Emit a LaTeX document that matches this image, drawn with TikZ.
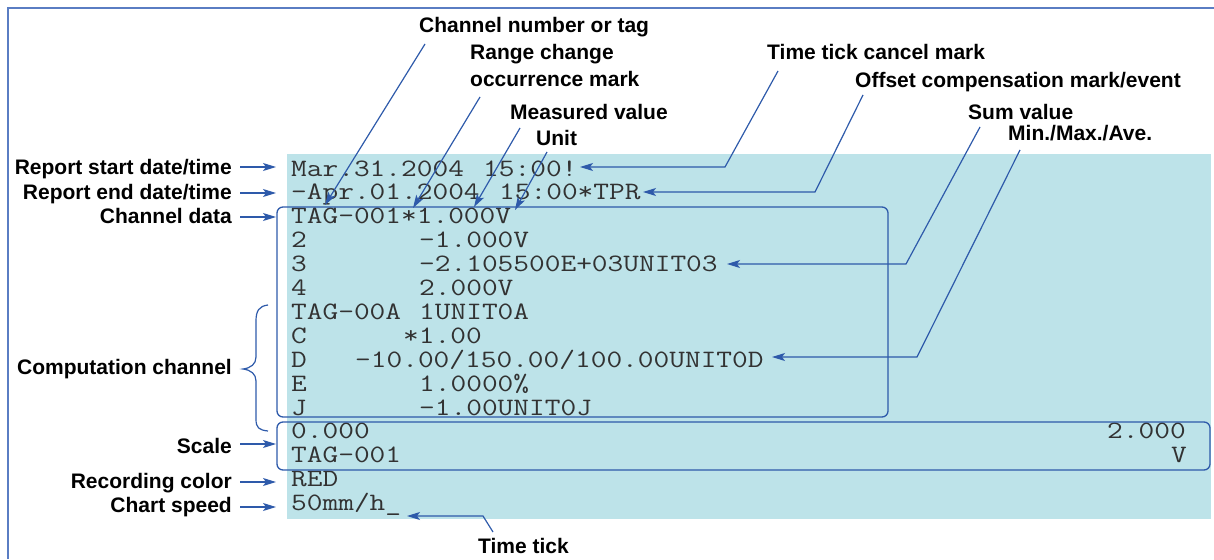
\documentclass[tikz,border=0pt]{standalone}
\usepackage{fontspec}
\setmainfont{Liberation Sans}
\newfontfamily\monofnt{Latin Modern Mono}[FakeStretch=1.22]
\usetikzlibrary{arrows.meta}
\definecolor{bgblue}{RGB}{189,227,233}
\definecolor{lineblue}{RGB}{46,90,170}
\definecolor{frameblue}{RGB}{90,125,195}
\definecolor{monogray}{RGB}{50,50,50}
\begin{document}
\begin{tikzpicture}[x=1pt,y=-1pt,
  lbl/.style={font=\fontsize{21}{23}\selectfont\bfseries, inner sep=0pt, text=black},
  lblr/.style={lbl, anchor=base east},
  lbll/.style={lbl, anchor=base west},
  mono/.style={font=\fontsize{25}{25}\selectfont\monofnt, inner sep=0pt, anchor=base west, text=monogray},
  conn/.style={draw=lineblue, line width=1.2pt, -{Stealth[length=13pt,width=8pt,inset=3pt]}},
  grp/.style={draw=lineblue, line width=1.3pt, rounded corners=6pt},
]
\useasboundingbox (0,0) rectangle (1214,559);
% frame and background
\draw[frameblue, line width=1.5pt] (8,559) -- (8,8) -- (1214,8);
\fill[bgblue] (287,154) rectangle (1211,519);

% monospaced report text (column width 16, origin 291)
\node[mono] (m0a) at (291,176) {Mar.31.2004};
\node[mono] (m0b) at (483,176) {15:00!};
\node[mono] (m1a) at (291,199.9) {-Apr.01.2004};
\node[mono] (m1b) at (499,199.9) {15:00*TPR};
\node[mono] (m2) at (291,223.8) {TAG-001*1.000V};
\node[mono] (m3a) at (291,247.7) {2};
\node[mono] (m3b) at (419,247.7) {-1.000V};
\node[mono] (m4a) at (291,271.6) {3};
\node[mono] (m4b) at (419,271.6) {-2.105500E+03UNIT03};
\node[mono] (m5a) at (291,295.5) {4};
\node[mono] (m5b) at (419,295.5) {2.000V};
\node[mono] (m6a) at (291,319.4) {TAG-00A};
\node[mono] (m6b) at (419,319.4) {1UNIT0A};
\node[mono] (m7a) at (291,343.3) {C};
\node[mono] (m7b) at (403,343.3) {*1.00};
\node[mono] (m8a) at (291,367.2) {D};
\node[mono] (m8b) at (355,367.2) {-10.00/150.00/100.00UNIT0D};
\node[mono] (m9a) at (291,391.1) {E};
\node[mono] (m9b) at (419,391.1) {1.0000\%};
\node[mono] (m10a) at (291,415) {J};
\node[mono] (m10b) at (419,415) {-1.00UNIT0J};
\node[mono] (m11a) at (291,438.9) {0.000};
\node[mono] (m11b) at (1107,438.9) {2.000};
\node[mono] (m12a) at (291,462.8) {TAG-001};
\node[mono] (m12b) at (1171,462.8) {V};
\node[mono] (m13) at (291,486.7) {RED};
\node[mono] (m14) at (291,510.6) {50mm/h\_};

% group boxes
\draw[grp] (277,207) rectangle (888,417);
\draw[grp] (277,422) rectangle (1210,470);

% left labels
\node[lblr] (lStart) at (232,174) {Report start date/time};
\node[lblr] (lEnd) at (232,199) {Report end date/time};
\node[lblr] (lData) at (232,223) {Channel data};
\node[lblr] (lComp) at (232,374) {Computation channel};
\node[lblr] (lScale) at (232,453) {Scale};
\node[lblr] (lRec) at (232,488) {Recording color};
\node[lblr] (lSpeed) at (232,512) {Chart speed};

\coordinate (aS0) at (240,167); \coordinate (aS1) at (276,167);
\coordinate (aE0) at (240,193); \coordinate (aE1) at (276,193);
\coordinate (aD0) at (240,217); \coordinate (aD1) at (276,217);
\coordinate (aC0) at (240,444); \coordinate (aC1) at (276,444);
\coordinate (aR0) at (240,482); \coordinate (aR1) at (276,482);
\coordinate (aP0) at (240,507); \coordinate (aP1) at (276,507);
\draw[conn] (aS0) -- (aS1);
\draw[conn] (aE0) -- (aE1);
\draw[conn] (aD0) -- (aD1);
\draw[conn] (aC0) -- (aC1);
\draw[conn] (aR0) -- (aR1);
\draw[conn] (aP0) -- (aP1);

% brace for computation channel
\draw[lineblue, line width=1.2pt] (268,305) .. controls (259,306) and (256,311) .. (256,321)
  -- (256,357) .. controls (256,364) and (251,368) .. (243,369)
  .. controls (251,370) and (256,374) .. (256,381)
  -- (256,419) .. controls (256,428) and (259,430) .. (268,431);

% top labels
\node[lbll] (lChan) at (419,33) {Channel number or tag};
\node[lbll] (lRange1) at (470,60) {Range change};
\node[lbll] (lRange2) at (470,87) {occurrence mark};
\node[lbll] (lMeas) at (510,120) {Measured value};
\node[lbll] (lUnit) at (536,145) {Unit};
\node[lbll] (lTTC) at (767,60) {Time tick cancel mark};
\node[lbll] (lOff) at (855,88) {Offset compensation mark/event};
\node[lbll] (lSum) at (968,120) {Sum value};
\node[lbll] (lMin) at (1008,140) {Min./Max./Ave.};
\node[lbll] (lTick) at (478,553) {Time tick};

% connector coordinates
\coordinate (sChan) at (425,44);   \coordinate (tChan) at (325,205);
\coordinate (sRange) at (480,97);  \coordinate (tRange) at (413,208);
\coordinate (sMeas) at (520,128);  \coordinate (tMeas) at (474,207);
\coordinate (sUnit) at (547,152);  \coordinate (tUnit) at (515,210);
\coordinate (sTTC) at (778,71);    \coordinate (bTTC) at (725,167);  \coordinate (tTTC) at (580,167);
\coordinate (sOff) at (863,95);    \coordinate (bOff) at (815,192);  \coordinate (tOff) at (643,192);
\coordinate (sSum) at (980,127);   \coordinate (bSum) at (906,264);  \coordinate (tSum) at (727,264);
\coordinate (sMin) at (1020,150);  \coordinate (bMin) at (917,357);  \coordinate (tMin) at (772,357);
\coordinate (sTick) at (493,532);  \coordinate (bTick) at (483,516); \coordinate (tTick) at (407,516);

\draw[conn] (sChan) -- (tChan);
\draw[conn] (sRange) -- (tRange);
\draw[conn] (sMeas) -- (tMeas);
\draw[conn] (sUnit) -- (tUnit);
\draw[conn] (sTTC) -- (bTTC) -- (tTTC);
\draw[conn] (sOff) -- (bOff) -- (tOff);
\draw[conn] (sSum) -- (bSum) -- (tSum);
\draw[conn] (sMin) -- (bMin) -- (tMin);
\draw[conn] (sTick) -- (bTick) -- (tTick);
\end{tikzpicture}
\end{document}
